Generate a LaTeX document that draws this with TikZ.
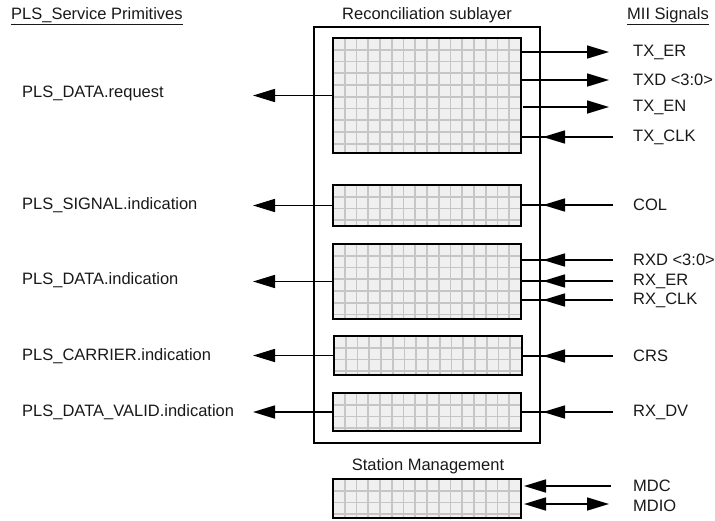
\documentclass[tikz,border=0pt]{standalone}
\usepackage{fontspec}
\setmainfont{Liberation Sans}
\usetikzlibrary{arrows.meta}
\definecolor{gridfill}{HTML}{F0F0F0}
\definecolor{gridline}{HTML}{C6C6C6}
\tikzset{
  lbl/.style={font=\fontsize{16.5}{19}\selectfont, inner sep=0pt, text=black!90},
  blockbox/.style={draw=black, line width=1.6pt, fill=gridfill, inner sep=0pt, outer sep=0pt, anchor=north west,
    path picture={
      \foreach \i in {1,...,17} \draw[gridline, line width=1.6pt] ([xshift=\i*11.75pt]path picture bounding box.north west) -- ([xshift=\i*11.75pt]path picture bounding box.south west);
      \foreach \j in {1,...,10} \draw[gridline, line width=1.6pt] ([yshift=-\j*11.75pt]path picture bounding box.north west) -- ([yshift=-\j*11.75pt]path picture bounding box.north east);
    }},
  outerbox/.style={draw=black, line width=1.6pt, inner sep=0pt, outer sep=0pt, anchor=north west},
  wire/.style={line width=1.6pt},
  tipa/.tip={Triangle[length=22pt,width=13pt]},
  arr/.style={line width=1.6pt, -tipa},
  darr/.style={line width=1.6pt, tipa-tipa}
}
\begin{document}
\begin{tikzpicture}[x=1pt,y=-1pt]
\useasboundingbox (0,0) rectangle (715,520);
% headings
\node[lbl, anchor=west] (h1) at (11,16) {\underline{PLS\_Service Primitives}};
\node[lbl] (h2) at (427,15) {Reconciliation sublayer};
\node[lbl, anchor=west] (h3) at (627,16) {\underline{MII Signals}};
% outer box
\node[outerbox, minimum width=226pt, minimum height=416pt] (rs) at (314,27) {};
% blocks
\node[blockbox, minimum width=188pt, minimum height=115pt] (b1) at (333,38) {};
\node[blockbox, minimum width=188pt, minimum height=41pt] (b2) at (333,185) {};
\node[blockbox, minimum width=188pt, minimum height=75pt] (b3) at (333,244) {};
\node[blockbox, minimum width=188pt, minimum height=39pt] (b4) at (334,336) {};
\node[blockbox, minimum width=188pt, minimum height=38pt] (b5) at (333,393) {};
\node[lbl] (smt) at (428,466) {Station Management};
\node[blockbox, minimum width=188pt, minimum height=39pt] (sm) at (333,479) {};
% left primitives
\node[lbl, anchor=west] (p1) at (22,93) {PLS\_DATA.request};
\node[lbl, anchor=west] (p2) at (22,205) {PLS\_SIGNAL.indication};
\node[lbl, anchor=west] (p3) at (22,280) {PLS\_DATA.indication};
\node[lbl, anchor=west] (p4) at (22,356) {PLS\_CARRIER.indication};
\node[lbl, anchor=west] (p5) at (22,412) {PLS\_DATA\_VALID.indication};
\coordinate (l1) at (253,95.5);
\coordinate (l2) at (253,205.5);
\coordinate (l3) at (253,281.5);
\coordinate (l4) at (253,355.5);
\coordinate (l5) at (253,412);
\draw[arr] (b1.west) -- (l1);
\draw[arr] (b2.west) -- (l2);
\draw[arr] (b3.west) -- (l3);
\draw[arr] (b4.west) -- (l4);
\draw[arr] (b5.west) -- (l5);
% right signals labels
\node[lbl, anchor=west] (s1) at (633,52) {TX\_ER};
\node[lbl, anchor=west] (s2) at (633,80) {TXD <3:0>};
\node[lbl, anchor=west] (s3) at (633,107) {TX\_EN};
\node[lbl, anchor=west] (s4) at (633,137) {TX\_CLK};
\node[lbl, anchor=west] (s5) at (633,205) {COL};
\node[lbl, anchor=west] (s6) at (633,260) {RXD <3:0>};
\node[lbl, anchor=west] (s7) at (633,281) {RX\_ER};
\node[lbl, anchor=west] (s8) at (633,300) {RX\_CLK};
\node[lbl, anchor=west] (s9) at (633,356) {CRS};
\node[lbl, anchor=west] (s10) at (633,412) {RX\_DV};
\node[lbl, anchor=west] (s11) at (633,486) {MDC};
\node[lbl, anchor=west] (s12) at (633,506) {MDIO};
% outgoing
\coordinate (o1a) at (521,52);  \coordinate (o1b) at (609,52);
\coordinate (o2a) at (521,80);  \coordinate (o2b) at (609,80);
\coordinate (o3a) at (523,107); \coordinate (o3b) at (609,107);
\draw[arr] (o1a) -- (o1b);
\draw[arr] (o2a) -- (o2b);
\draw[arr] (o3a) -- (o3b);
% incoming
\foreach \n/\yy in {4/137,5/205,6/260,7/281,8/300,9/356,10/412}{
  \coordinate (i\n a) at (613,\yy);
  \coordinate (i\n b) at (543,\yy);
  \coordinate (i\n c) at (521,\yy);
  \draw[wire] (i\n a) -- (i\n c);
  \draw[arr] (i\n a) -- (i\n b);
}
\coordinate (m1a) at (611,486); \coordinate (m1b) at (524,486);
\draw[arr] (m1a) -- (m1b);
\coordinate (m2a) at (524,504); \coordinate (m2b) at (609,504);
\draw[darr] (m2a) -- (m2b);
\end{tikzpicture}
\end{document}
